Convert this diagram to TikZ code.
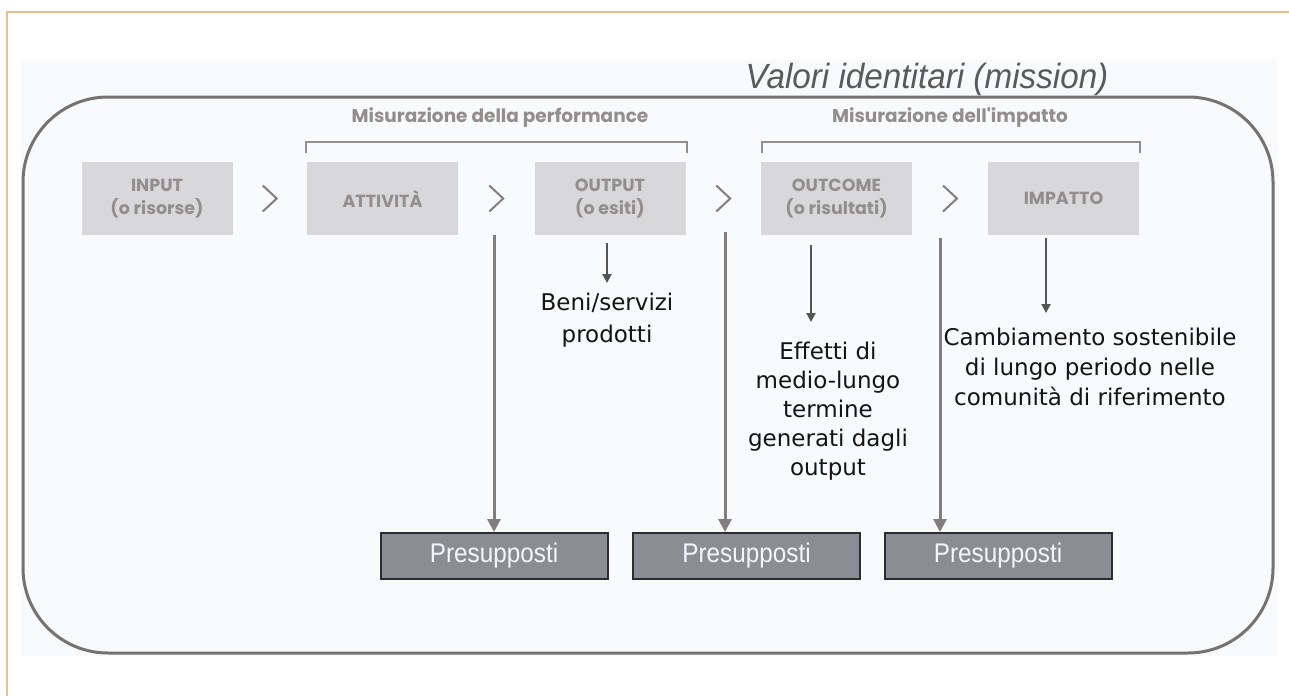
\documentclass[tikz,border=0pt]{standalone}
\usepackage{fontspec}
\setmainfont{DejaVu Sans}
\newfontfamily\pop{Poppins}
\newfontfamily\ars{Liberation Sans}
\usetikzlibrary{arrows.meta,calc}
\definecolor{framecol}{RGB}{240,186,140}
\definecolor{bgcol}{RGB}{248,250,251}
\definecolor{rectcol}{RGB}{118,114,114}
\definecolor{boxgray}{RGB}{216,216,218}
\definecolor{boxtext}{RGB}{146,142,142}
\definecolor{presfill}{RGB}{138,142,148}
\definecolor{presdraw}{RGB}{45,45,45}
\definecolor{longgray}{RGB}{130,126,128}
\definecolor{shortgray}{RGB}{85,85,85}
\definecolor{desctext}{RGB}{20,20,20}
\definecolor{valcol}{RGB}{90,90,90}
\begin{document}
\begin{tikzpicture}[x=1pt,y=-1pt,
  topbox/.style={fill=boxgray, minimum width=151pt, minimum height=73pt, inner sep=0pt,
     font=\pop\bfseries\fontsize{17.5}{23}\selectfont, text=boxtext, align=center},
  presbox/.style={fill=presfill, draw=presdraw, line width=2pt, minimum width=227pt,
     minimum height=46pt, inner sep=0pt, font=\ars\fontsize{27}{30}\selectfont, text=white!96!blue},
  desc/.style={align=center, text=desctext, inner sep=0pt, anchor=north},
  header/.style={font=\pop\bfseries\fontsize{18.5}{20}\selectfont, text=boxtext, inner sep=0pt},
  longarrow/.style={draw=longgray, line width=3pt, -{Triangle[width=13pt,length=13pt]}},
  shortarrow/.style={draw=shortgray, line width=2pt, -{Triangle[width=9pt,length=9pt]}},
  chev/.style={draw=longgray, line width=2pt},
  bracket/.style={draw=boxtext, line width=2pt}
]
\useasboundingbox (0,0) rectangle (1289,696);
% page frame and background
\fill[bgcol] (21,60) rectangle (1278,656);
\draw[framecol, line width=2pt] (1289,12) -- (7,12) -- (7,696);
\draw[rectcol, line width=3pt, rounded corners=85pt] (23,97) rectangle (1273,653);
% title
\node[font=\ars\itshape\fontsize{35}{40}\selectfont, text=valcol, anchor=base, inner sep=0pt] (valori) at (927,88) {\scalebox{0.95}[1]{Valori identitari (mission)}};
% headers and brackets
\node[header] (hperf) at (500,118) {Misurazione della performance};
\node[header] (himp) at (950,118) {Misurazione dell'impatto};
\draw[bracket] (306,153) -- (306,142) -- (687,142) -- (687,153);
\draw[bracket] (762,153) -- (762,142) -- (1140,142) -- (1140,153);
% top boxes
\node[topbox] (input) at (157,198.5) {INPUT\\(o risorse)};
\node[topbox] (att) at (382.5,198.5) {ATTIVITÀ};
\node[topbox] (out) at (610,198.5) {OUTPUT\\(o esiti)};
\node[topbox] (outc) at (836.5,198.5) {OUTCOME\\(o risultati)};
\node[topbox] (imp) at (1063.5,198.5) {IMPATTO};
% chevrons
\foreach \a/\b in {input/att, att/out, out/outc, outc/imp}
  \draw[chev] ($(\a.east)!0.5!(\b.west)$) ++(-7,-13) -- ++(14,13) -- ++(-14,13);
% presupposti
\node[presbox] (p1) at (494,556) {\scalebox{0.9}[1]{Presupposti}};
\node[presbox] (p2) at (746.5,556) {\scalebox{0.9}[1]{Presupposti}};
\node[presbox] (p3) at (998,556) {\scalebox{0.9}[1]{Presupposti}};
% descriptions
\node[desc, font=\fontsize{23}{32}\selectfont] (beni) at (607,293) {Beni/servizi\\prodotti};
\node[desc, font=\fontsize{23}{29}\selectfont] (eff) at (828,342) {Effetti di\\medio-lungo\\termine\\generati dagli\\output};
\node[desc, font=\fontsize{23}{30}\selectfont] (camb) at (1090,328) {Cambiamento sostenibile\\di lungo periodo nelle\\comunità di riferimento};
% long arrows
\coordinate (l1) at (494,235);
\coordinate (l2) at (725,232);
\coordinate (l3) at (940,238);
\draw[longarrow] (l1) -- (l1 |- p1.north);
\draw[longarrow] (l2) -- (l2 |- p2.north);
\draw[longarrow] (l3) -- (l3 |- p3.north);
% short arrows
\coordinate (s1) at (607,243);
\coordinate (s2) at (811,245);
\coordinate (s3) at (1046,238);
\draw[shortarrow, shorten >=10pt] (s1) -- (s1 |- beni.north);
\draw[shortarrow, shorten >=20pt] (s2) -- (s2 |- eff.north);
\draw[shortarrow, shorten >=15pt] (s3) -- (s3 |- camb.north);
\end{tikzpicture}
\end{document}
